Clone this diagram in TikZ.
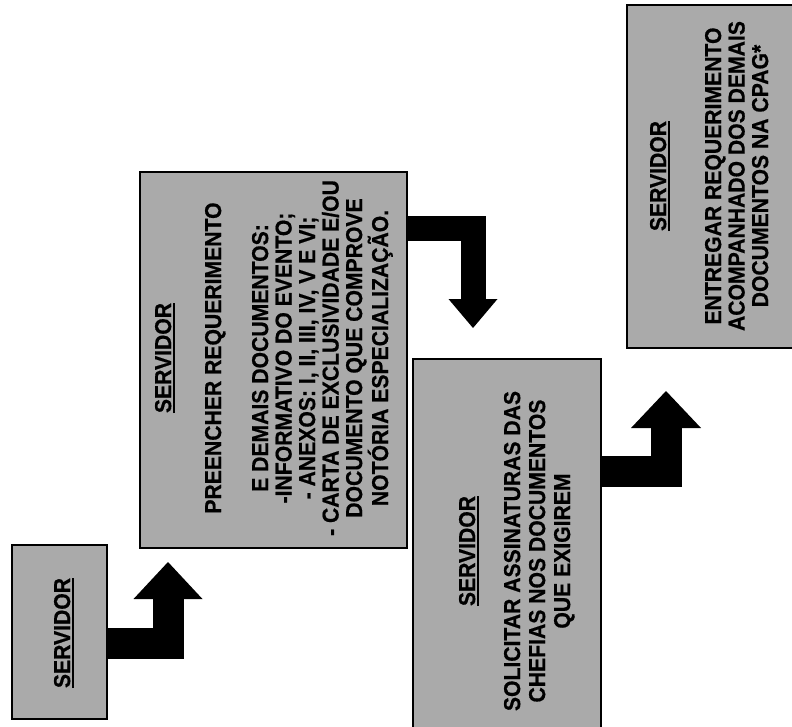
\documentclass[tikz,border=0pt]{standalone}
\usepackage{fontspec}
\setmainfont{Liberation Sans}[FakeStretch=0.92, BoldFeatures={FakeBold=0.6}]
\usetikzlibrary{arrows.meta,calc}
\definecolor{boxgray}{RGB}{170,170,170}
\newcommand\myul[1]{\setbox0\hbox{#1}\rlap{\rule[-4.2pt]{\wd0}{1.8pt}}\box0}
\begin{document}
\begin{tikzpicture}[x=1pt,y=-1pt,
  box/.style={draw=black, line width=1.2pt, fill=boxgray, inner sep=0pt, outer sep=0pt, anchor=north west},
  txt/.style={rotate=90, anchor=north, align=center, inner sep=0pt, font=\bfseries\fontsize{23}{23.5}\selectfont},
  blk/.style={draw=black, line join=miter}
]
\useasboundingbox (0,0) rectangle (792,726);
\clip (0,0) rectangle (792,726);

% boxes
\node[box, minimum width=95, minimum height=174] (b1) at (12,545) {};
\node[box, minimum width=267, minimum height=376] (b2) at (140,172) {};
\node[box, minimum width=188, minimum height=390] (b3) at (413,359) {};
\node[box, minimum width=175, minimum height=343] (b4) at (627,5) {};

% texts
\node[txt] (t1) at (53.8,633) {\myul{SERVIDOR}};
\node[txt] (t2) at (154.8,358) {\myul{SERVIDOR}\\[26.5pt]
  PREENCHER REQUERIMENTO\\[23.5pt]
  E DEMAIS DOCUMENTOS:\\
  -INFORMATIVO DO EVENTO;\\
  - ANEXOS: I, II, III, IV, V E VI;\\
  - CARTA DE EXCLUSIVIDADE E/OU\\
  DOCUMENTO QUE COMPROVE\\
  NOTÓRIA ESPECIALIZAÇÃO.};
\node[txt] (t3) at (458.8,551) {\myul{SERVIDOR}\\[21.5pt]
  SOLICITAR ASSINATURAS DAS\\[1.5pt]
  CHEFIAS NOS DOCUMENTOS\\[1.5pt]
  QUE EXIGIREM};
\node[txt] (t4) at (649.8,176) {\myul{SERVIDOR}\\[31.5pt]
  ENTREGAR REQUERIMENTO\\
  ACOMPANHADO DOS DEMAIS\\
  DOCUMENTOS NA CPAG*};

% block arrows
\coordinate (a1s) at ($(b1.north east)+(0,98)$);
\coordinate (a1t) at ($(b2.south west)+(28,14)$);
\draw[blk, line width=31pt, -{Triangle[width=69pt,length=37pt,line width=0pt]}] (a1s) -| (a1t);

\coordinate (a2s) at ($(b2.north east)+(0,56)$);
\coordinate (a2t) at ($(b3.north west)+(60,-31)$);
\draw[blk, line width=25pt, -{Triangle[width=49pt,length=29pt,line width=0pt]}] (a2s) -| (a2t);

\coordinate (a3s) at ($(b3.north east)+(0,112)$);
\coordinate (a3t) at ($(b4.south west)+(39,43)$);
\draw[blk, line width=31pt, -{Triangle[width=70pt,length=37pt,line width=0pt]}] (a3s) -| (a3t);
\end{tikzpicture}
\end{document}
